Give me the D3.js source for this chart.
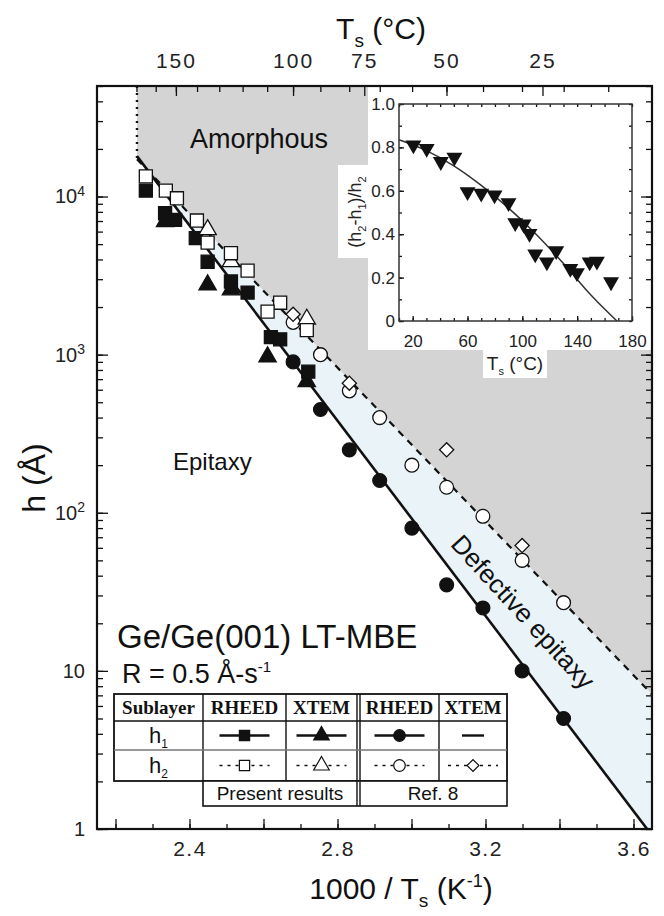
<!DOCTYPE html>
<html>
<head>
<meta charset="utf-8">
<script src="https://cdn.jsdelivr.net/npm/d3@7"></script>
<style>
  body { margin: 0; background: #fff; }
  svg { display: block; font-family: "Liberation Sans", Arial, sans-serif; }
</style>
</head>
<body>
<div id="container"></div>
<script>
/* DATA  (x = 1000/Ts in K^-1, h in Angstrom) */

// present results
const h1RheedX = [2.282, 2.334, 2.361, 2.417, 2.449, 2.512, 2.557, 2.620, 2.645, 2.721];
const h1RheedH = [10900, 7840, 7110, 5450, 3870, 2900, 2470, 1290, 1250, 780];
const h2RheedX = [2.282, 2.336, 2.366, 2.420, 2.449, 2.512, 2.557, 2.645, 2.611, 2.717];
const h2RheedH = [13400, 10900, 9750, 7050, 5110, 4380, 3400, 2130, 1870, 1430];
const h1XtemX = [2.334, 2.449, 2.512, 2.611, 2.717];
const h1XtemH = [6940, 2760, 2570, 970, 675];
const h2XtemX = [2.449, 2.512, 2.717];
const h2XtemH = [6170, 3870, 1675];

// Ref. 8
const refRheedX = [2.680, 2.754, 2.832, 2.914, 3.001, 3.095, 3.193, 3.299, 3.411];
const refH1 = [900, 450, 250, 160, 80, 35, 25, 10, 5];
const refH2 = [1600, 1000, 590, 400, 200, 145, 95, 50, 27];
const refXtemX = [2.680, 2.832, 3.095, 3.299];
const refXtemH2 = [1800, 660, 250, 62];

// boundary lines (h1 solid, h2 dashed)
const fitX = [2.258, 3.65];
const h1Fit = [18000, 0.91];
const h2Fit = [17200, 7.1];

// inset: (h2-h1)/h2 vs Ts
const insetT = [20.5, 30.2, 40.5, 50.4, 60, 70, 79.7, 89.9, 94.8, 100.9, 105.2, 109.4, 117.9, 124.7, 135, 139.8, 149.1, 154.4, 164.7];
const insetR = [0.811, 0.795, 0.734, 0.754, 0.595, 0.588, 0.58, 0.545, 0.452, 0.446, 0.403, 0.308, 0.272, 0.323, 0.242, 0.222, 0.272, 0.275, 0.18];
const insetFitT = [10, 30, 50, 70, 90, 110, 130, 150, 169];
const insetFitR = [0.835, 0.785, 0.715, 0.625, 0.52, 0.4, 0.265, 0.12, 0];

// ticks
const xMajorTicks = [2.2, 2.4, 2.6, 2.8, 3.0, 3.2, 3.4, 3.6];
const xLabelTicks = [2.4, 2.8, 3.2, 3.6];
const xMinorTicks = [2.2, 2.3, 2.4, 2.5, 2.6, 2.7, 2.8, 2.9, 3.0, 3.1, 3.2, 3.3, 3.4, 3.5, 3.6];
const yLabelTicks = [1, 10, 100, 1000, 10000];
const topLabelsC = [150, 100, 75, 50, 25];
const topMinorC = [170, 160, 150, 140, 130, 120, 110, 100, 90, 80, 70, 60, 50, 40, 30, 20, 10];
const insetXLabels = [20, 60, 100, 140, 180];
const insetXMinor = [10, 20, 30, 40, 50, 60, 70, 80, 90, 100, 110, 120, 130, 140, 150, 160, 170, 180];
const insetYLabels = [0, 0.2, 0.4, 0.6, 0.8, 1.0];
const insetYMinor = [0, 0.1, 0.2, 0.3, 0.4, 0.5, 0.6, 0.7, 0.8, 0.9, 1.0];

/* CONSTANTS */
const width = 664;
const height = 916;
const plot = { left: 97, right: 652, top: 86, bottom: 829 };
const ink = "#111";
const toInvK = c => 1000 / (c + 273.15);

/* SCALES */
const xScale = d3.scaleLinear().domain([2.15, 3.65]).range([plot.left, plot.right]);
const yScale = d3.scaleLog().domain([1, 50000]).range([plot.bottom, plot.top]);

const svg = d3.select("#container")
  .append("svg")
  .attr("width", width)
  .attr("height", height);

svg.append("defs").append("clipPath").attr("id", "plotClip")
  .append("rect")
  .attr("x", plot.left).attr("y", plot.top)
  .attr("width", plot.right - plot.left).attr("height", plot.bottom - plot.top);

const area = svg.append("g").attr("clip-path", "url(#plotClip)");

// regions
const poly = pts => "M" + pts.map(p => `${xScale(p[0])},${yScale(p[1])}`).join("L") + "Z";

area.append("path")
  .attr("d", poly([[fitX[0], 50000], [fitX[0], h2Fit[0]], [fitX[1], h2Fit[1]], [fitX[1], 50000]]))
  .attr("fill", "#d4d4d4");

area.append("path")
  .attr("d", poly([[fitX[0], h2Fit[0]], [fitX[1], h2Fit[1]], [fitX[1], h1Fit[1]], [fitX[0], h1Fit[0]]]))
  .attr("fill", "#e9f3f8");

// region labels
svg.append("text").attr("x", 190).attr("y", 148)
  .style("font-size", "27px").attr("fill", ink).text("Amorphous");
svg.append("text").attr("x", 173).attr("y", 470)
  .style("font-size", "24px").attr("fill", ink).text("Epitaxy");
svg.append("text")
  .attr("transform", "translate(523,612) rotate(47.5)")
  .attr("text-anchor", "middle").attr("dominant-baseline", "central")
  .style("font-size", "26px").attr("fill", ink).text("Defective epitaxy");

// boundary lines
const fitLine = d3.line().x(d => xScale(d[0])).y(d => yScale(d[1]));
area.append("path")
  .attr("d", fitLine(fitX.map((x, i) => [x, h1Fit[i]])))
  .attr("fill", "none").attr("stroke", ink).attr("stroke-width", 2.6);
area.append("path")
  .attr("d", fitLine(fitX.map((x, i) => [x, h2Fit[i]])))
  .attr("fill", "none").attr("stroke", ink).attr("stroke-width", 2.2)
  .attr("stroke-dasharray", "7,6");
area.append("line")
  .attr("x1", xScale(fitX[0])).attr("x2", xScale(fitX[0]))
  .attr("y1", plot.top).attr("y2", yScale(h2Fit[0]))
  .attr("stroke", ink).attr("stroke-width", 2.4).attr("stroke-dasharray", "2,5");

// markers
function series(xs, hs, type, filled, size, rot) {
  area.append("g").selectAll("path")
    .data(xs.map((x, i) => [x, hs[i]]))
    .join("path")
    .attr("d", d3.symbol().type(type).size(size))
    .attr("transform", d => `translate(${xScale(d[0])},${yScale(d[1])}) rotate(${rot || 0})`)
    .attr("fill", filled ? ink : "#fff")
    .attr("stroke", ink)
    .attr("stroke-width", 1.3);
}
series(refRheedX, refH1, d3.symbolCircle, true, 150);
series(refRheedX, refH2, d3.symbolCircle, false, 150);
series(refXtemX, refXtemH2, d3.symbolSquare, false, 100, 45);
series(h1XtemX, h1XtemH, d3.symbolTriangle, true, 130);
series(h1RheedX, h1RheedH, d3.symbolSquare, true, 170);
series(h2XtemX, h2XtemH, d3.symbolTriangle, false, 130);
series(h2RheedX, h2RheedH, d3.symbolSquare, false, 170);

/* INSET */
const insetX = d3.scaleLinear().domain([10, 180]).range([399, 632]);
const insetY = d3.scaleLinear().domain([0, 1]).range([321, 104]);

svg.append("rect").attr("x", 368).attr("y", plot.top).attr("width", plot.right - 368).attr("height", 350 - plot.top).attr("fill", "#fff");
svg.append("rect").attr("x", 338).attr("y", 165).attr("width", 31).attr("height", 93).attr("fill", "#fff");
svg.append("rect").attr("x", 483).attr("y", 349).attr("width", 64).attr("height", 29).attr("fill", "#fff");

const inset = svg.append("g").style("font-size", "17px").attr("fill", "#222");

inset.append("path")
  .attr("d", d3.line().curve(d3.curveMonotoneX).x((d, i) => insetX(d)).y((d, i) => insetY(insetFitR[i]))(insetFitT))
  .attr("fill", "none").attr("stroke", "#333").attr("stroke-width", 1.5);

inset.append("g").selectAll("path")
  .data(insetT.map((t, i) => [t, insetR[i]]))
  .join("path")
  .attr("d", d3.symbol().type(d3.symbolTriangle).size(110))
  .attr("transform", d => `translate(${insetX(d[0])},${insetY(d[1])}) rotate(180)`)
  .attr("fill", ink);

function styleAxis(g) {
  g.select(".domain").remove();
  g.selectAll(".tick line").attr("stroke", ink).attr("stroke-width", 1.3);
  g.selectAll(".tick text").attr("fill", "#222");
  return g;
}

inset.append("g").attr("transform", "translate(0,321)")
  .call(d3.axisBottom(insetX).tickValues(insetXMinor).tickSize(-3).tickFormat(""))
  .call(styleAxis);
inset.append("g").attr("transform", "translate(0,321)")
  .call(d3.axisBottom(insetX).tickValues(insetXLabels).tickSize(-5).tickPadding(14).tickFormat(d3.format("d")))
  .call(styleAxis).style("font-size", "17px");
inset.append("g").attr("transform", "translate(0,104)")
  .call(d3.axisTop(insetX).tickValues(insetXMinor).tickSize(-3).tickFormat(""))
  .call(styleAxis);
inset.append("g").attr("transform", "translate(399,0)")
  .call(d3.axisLeft(insetY).tickValues(insetYMinor).tickSize(-3).tickFormat(""))
  .call(styleAxis);
inset.append("g").attr("transform", "translate(399,0)")
  .call(d3.axisLeft(insetY).tickValues(insetYLabels).tickSize(-5).tickPadding(4).tickFormat(d => d === 0 ? "0" : d.toFixed(1)))
  .call(styleAxis).style("font-size", "17px");
inset.append("g").attr("transform", "translate(632,0)")
  .call(d3.axisRight(insetY).tickValues(insetYMinor).tickSize(-3).tickFormat(""))
  .call(styleAxis);

inset.append("rect").attr("x", 399).attr("y", 104).attr("width", 233).attr("height", 217)
  .attr("fill", "none").attr("stroke", "#333").attr("stroke-width", 1.5);

const insetXTitle = inset.append("text").attr("x", 515).attr("y", 370).attr("text-anchor", "middle")
  .style("font-size", "19px");
insetXTitle.append("tspan").text("T");
insetXTitle.append("tspan").attr("dy", 5).style("font-size", "11px").text("s");
insetXTitle.append("tspan").attr("dy", -5).text(" (°C)");

const insetYTitle = inset.append("text").attr("transform", "translate(361,212) rotate(-90)")
  .attr("text-anchor", "middle").style("font-size", "18px");
insetYTitle.append("tspan").text("(h");
insetYTitle.append("tspan").attr("dy", 5).style("font-size", "11px").text("2");
insetYTitle.append("tspan").attr("dy", -5).text("-h");
insetYTitle.append("tspan").attr("dy", 5).style("font-size", "11px").text("1");
insetYTitle.append("tspan").attr("dy", -5).text(")/h");
insetYTitle.append("tspan").attr("dy", 5).style("font-size", "11px").text("2");

/* SAMPLE LABELS */
svg.append("text").attr("x", 117).attr("y", 648)
  .style("font-size", "33px").attr("fill", ink).text("Ge/Ge(001) LT-MBE");
const rate = svg.append("text").attr("x", 122).attr("y", 683)
  .style("font-size", "27px").attr("fill", ink);
rate.append("tspan").text("R = 0.5 Å-s");
rate.append("tspan").attr("dy", -11).style("font-size", "15px").text("-1");

/* LEGEND TABLE */
const cols = [114, 203, 286, 357, 439, 507];
const rows = [694, 721, 750, 781];
const footY = 806;
const legend = svg.append("g");
legend.append("rect").attr("x", cols[0]).attr("y", rows[0]).attr("width", cols[5] - cols[0]).attr("height", rows[3] - rows[0])
  .attr("fill", "#fff").attr("stroke", ink).attr("stroke-width", 1.8);
legend.append("rect").attr("x", cols[1]).attr("y", rows[3]).attr("width", cols[5] - cols[1]).attr("height", footY - rows[3])
  .attr("fill", "#fff").attr("stroke", ink).attr("stroke-width", 1.6);
[cols[1], cols[2], cols[4]].forEach(x => {
  legend.append("line").attr("x1", x).attr("x2", x).attr("y1", rows[0]).attr("y2", rows[3])
    .attr("stroke", ink).attr("stroke-width", 1.4);
});
[cols[3], cols[3] + 3].forEach(x => {
  legend.append("line").attr("x1", x).attr("x2", x).attr("y1", rows[0]).attr("y2", footY)
    .attr("stroke", ink).attr("stroke-width", 1.4);
});
legend.append("line").attr("x1", cols[0]).attr("x2", cols[5]).attr("y1", rows[1]).attr("y2", rows[1])
  .attr("stroke", ink).attr("stroke-width", 1.4);
legend.append("line").attr("x1", cols[0]).attr("x2", cols[5]).attr("y1", rows[2]).attr("y2", rows[2])
  .attr("stroke", "#777").attr("stroke-width", 1.3);

const headers = ["Sublayer", "RHEED", "XTEM", "RHEED", "XTEM"];
const colMid = [158.5, 244.5, 321.5, 399.5, 473];
legend.selectAll(".hdr").data(headers).join("text")
  .attr("x", (d, i) => colMid[i]).attr("y", 714).attr("text-anchor", "middle")
  .style("font-family", "'Liberation Serif', 'Times New Roman', serif")
  .style("font-weight", "bold").style("font-size", "19px").attr("fill", ink)
  .text(d => d);

["1", "2"].forEach((s, i) => {
  const t = legend.append("text").attr("x", colMid[0]).attr("y", 743 + i * 30).attr("text-anchor", "middle")
    .style("font-size", "22px").attr("fill", ink);
  t.append("tspan").text("h");
  t.append("tspan").attr("dy", 5).style("font-size", "12px").text(s);
});

const legendItems = [
  { col: 1, row: 0, type: d3.symbolSquare, filled: true, dash: null },
  { col: 2, row: 0, type: d3.symbolTriangle, filled: true, dash: null },
  { col: 3, row: 0, type: d3.symbolCircle, filled: true, dash: null },
  { col: 4, row: 0, type: null, filled: true, dash: null },
  { col: 1, row: 1, type: d3.symbolSquare, filled: false, dash: "3,5" },
  { col: 2, row: 1, type: d3.symbolTriangle, filled: false, dash: "3,5" },
  { col: 3, row: 1, type: d3.symbolCircle, filled: false, dash: "3,5" },
  { col: 4, row: 1, type: d3.symbolSquare, filled: false, dash: "3,5", rot: 45 }
];
legendItems.forEach(it => {
  const cx = colMid[it.col];
  const cy = 735.5 + it.row * 30;
  const half = it.type ? 25 : 11;
  legend.append("line").attr("x1", cx - half).attr("x2", cx + half).attr("y1", cy).attr("y2", cy)
    .attr("stroke", ink).attr("stroke-width", it.dash ? 1.6 : 2.4)
    .attr("stroke-dasharray", it.dash);
  if (it.type) {
    legend.append("path")
      .attr("d", d3.symbol().type(it.type).size(it.rot ? 70 : 105)())
      .attr("transform", `translate(${cx},${cy}) rotate(${it.rot || 0})`)
      .attr("fill", it.filled ? ink : "#fff").attr("stroke", ink).attr("stroke-width", 1.2);
  }
});
legend.append("text").attr("x", 280).attr("y", 800).attr("text-anchor", "middle")
  .style("font-size", "19px").attr("fill", ink).text("Present results");
legend.append("text").attr("x", 433).attr("y", 800).attr("text-anchor", "middle")
  .style("font-size", "19px").attr("fill", ink).text("Ref. 8");

/* AXES */
svg.append("g").attr("transform", `translate(0,${plot.bottom})`)
  .call(d3.axisBottom(xScale).tickValues(xMinorTicks).tickSize(-5).tickFormat(""))
  .call(styleAxis);
svg.append("g").attr("transform", `translate(0,${plot.bottom})`)
  .call(d3.axisBottom(xScale).tickValues(xMajorTicks).tickSize(-10).tickPadding(12)
    .tickFormat(d => xLabelTicks.some(v => Math.abs(v - d) < 1e-6) ? d.toFixed(1) : ""))
  .call(styleAxis)
  .style("font-size", "21px").style("letter-spacing", "1.5px");

svg.append("g").attr("transform", `translate(0,${plot.top})`)
  .call(d3.axisTop(xScale).tickValues(topMinorC.map(toInvK)).tickSize(-6).tickFormat(""))
  .call(styleAxis);
svg.append("g").attr("transform", `translate(0,${plot.top})`)
  .call(d3.axisTop(xScale).tickValues(topLabelsC.map(toInvK)).tickSize(-10).tickPadding(18)
    .tickFormat((d, i) => topLabelsC[i]))
  .call(styleAxis)
  .style("font-size", "21px").style("letter-spacing", "2px");

svg.append("g").attr("transform", `translate(${plot.left},0)`)
  .call(d3.axisLeft(yScale).tickValues(yScale.ticks()).tickSize(-6).tickFormat(""))
  .call(styleAxis);
const yAxisG = svg.append("g").attr("transform", `translate(${plot.left},0)`)
  .call(d3.axisLeft(yScale).tickValues(yLabelTicks).tickSize(-11).tickPadding(12).tickFormat(d3.format("d")))
  .call(styleAxis)
  .style("font-size", "20px");
yAxisG.selectAll(".tick text").each(function(d) {
  const e = Math.round(Math.log10(d));
  if (e >= 2) {
    const t = d3.select(this).text("10");
    t.append("tspan").attr("dy", "-0.55em").style("font-size", "14px").text(e);
  }
});
svg.append("g").attr("transform", `translate(${plot.right},0)`)
  .call(d3.axisRight(yScale).tickValues(yScale.ticks()).tickSize(-6).tickFormat(""))
  .call(styleAxis);
svg.append("g").attr("transform", `translate(${plot.right},0)`)
  .call(d3.axisRight(yScale).tickValues(yLabelTicks).tickSize(-11).tickFormat(""))
  .call(styleAxis);

// frame
svg.append("rect")
  .attr("x", plot.left).attr("y", plot.top)
  .attr("width", plot.right - plot.left).attr("height", plot.bottom - plot.top)
  .attr("fill", "none").attr("stroke", ink).attr("stroke-width", 2.2);

/* TITLES */
const topTitle = svg.append("text").attr("x", 381).attr("y", 39).attr("text-anchor", "middle")
  .style("font-size", "30px").attr("fill", ink);
topTitle.append("tspan").text("T");
topTitle.append("tspan").attr("dy", 8).style("font-size", "19px").text("s");
topTitle.append("tspan").attr("dy", -8).text(" (°C)");

const xTitle = svg.append("text").attr("x", 401).attr("y", 899).attr("text-anchor", "middle")
  .style("font-size", "30px").attr("fill", ink);
xTitle.append("tspan").text("1000 / T");
xTitle.append("tspan").attr("dy", 8).style("font-size", "19px").text("s");
xTitle.append("tspan").attr("dy", -8).text(" (K");
xTitle.append("tspan").attr("dy", -12).style("font-size", "18px").text("-1");
xTitle.append("tspan").attr("dy", 12).text(")");

svg.append("text").attr("transform", "translate(45,478) rotate(-90)").attr("text-anchor", "middle")
  .style("font-size", "32px").attr("fill", ink).text("h (Å)");
</script>
</body>
</html>
